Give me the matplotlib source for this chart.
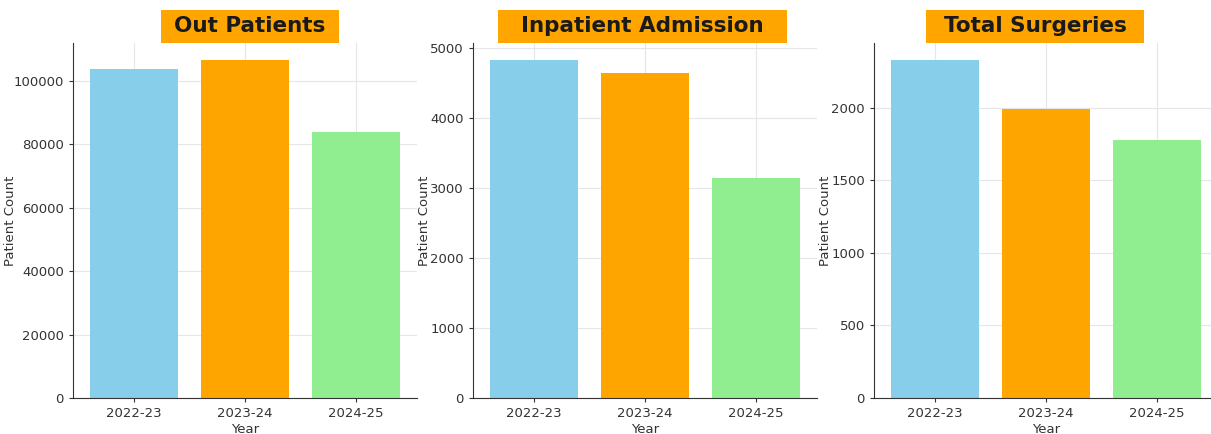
import matplotlib
matplotlib.use("Agg")
import matplotlib.pyplot as plt
from matplotlib.patches import Rectangle

years = ["2022-23", "2023-24", "2024-25"]
out_patients = [103700, 106600, 84000]
inpatient_admission = [4830, 4640, 3150]
total_surgeries = [2330, 1995, 1780]
titles = ["Out Patients", "Inpatient Admission", "Total Surgeries"]
colors = ["skyblue", "orange", "lightgreen"]

W, H = 1211, 434
fig = plt.figure(figsize=(W / 100, H / 100), dpi=100)

# pixel layout
ax_left = [73, 473, 874]
ax_w = 344
ax_bottom = 36
ax_h = 355
ylabel_x = [17, 431, 832]
box_x = [(161, 339), (498, 787), (926, 1144)]
box_top, box_bot = 10, 43

series = [out_patients, inpatient_admission, total_surgeries]
for i, vals in enumerate(series):
    ax = fig.add_axes([ax_left[i] / W, ax_bottom / H, ax_w / W, ax_h / H])
    ax.set_axisbelow(True)
    ax.grid(True, color="#e6e6e6", linewidth=0.8)
    ax.bar(years, vals, color=colors, width=0.8)
    ax.set_xlim(-0.55, 2.55)
    ax.set_ylim(0, max(vals) * 1.05)
    ax.spines["top"].set_visible(False)
    ax.spines["right"].set_visible(False)
    ax.spines["left"].set_color("#333333")
    ax.spines["bottom"].set_color("#333333")
    ax.tick_params(colors="#333333", labelsize=9.5, length=3)
    ax.set_xlabel("Year", fontsize=9.5, color="#333333", labelpad=2)
    ax.set_ylabel("Patient Count", fontsize=9.5, color="#333333")
    ax.yaxis.set_label_coords((ylabel_x[i] - ax_left[i]) / ax_w, 0.5)

    x0, x1 = box_x[i]
    fig.patches.append(Rectangle((x0 / W, 1 - box_bot / H), (x1 - x0) / W,
                                 (box_bot - box_top) / H, transform=fig.transFigure,
                                 facecolor="#FFA500", edgecolor="none", zorder=5))
    fig.text((x0 + x1) / 2 / W, 1 - (box_top + box_bot) / 2 / H, titles[i],
             ha="center", va="center", fontsize=15.5, fontweight="bold",
             family="DejaVu Sans", color="#1a1a1a", zorder=6)

fig.savefig("out.png", dpi=100)
